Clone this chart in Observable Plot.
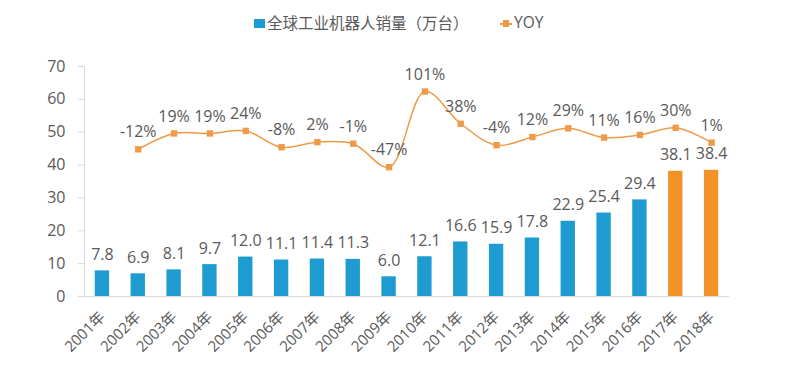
<!DOCTYPE html>
<html><head><meta charset="utf-8">
<script src="https://cdn.jsdelivr.net/npm/d3@7"></script>
<script src="https://cdn.jsdelivr.net/npm/@observablehq/plot@0.6"></script>
<style>
body{margin:0;background:#fff;font-family:"Open Sans","Noto Sans CJK SC",sans-serif;color:#595959;}
#legend{position:relative;height:45px;width:794px;font-size:15.5px;}
#legend span{position:absolute;white-space:nowrap;}
</style></head><body>
<div id="legend">
  <span style="left:254px;top:19px;width:11px;height:9px;background:#1E9BD0"></span>
  <span style="left:267px;top:11px;font-family:'Noto Sans CJK SC';">全球工业机器人销量（万台）</span>
  <span style="left:500px;top:23px;width:12px;height:1.5px;background:#EE9A48"></span>
  <span style="left:503px;top:20px;width:6px;height:7px;background:#EE9A48"></span>
  <span style="left:514px;top:11px;">YOY</span>
</div>
<div id="chart"></div>
<script>
const years = ["2001年","2002年","2003年","2004年","2005年","2006年","2007年","2008年","2009年","2010年","2011年","2012年","2013年","2014年","2015年","2016年","2017年","2018年"];
const sales = [7.8,6.9,8.1,9.7,12.0,11.1,11.4,11.3,6.0,12.1,16.6,15.9,17.8,22.9,25.4,29.4,38.1,38.4];
const yoy = [null,-12,19,19,24,-8,2,-1,-47,101,38,-4,12,29,11,16,30,1];
const highlightYears = ["2017年","2018年"];
const yTicks = [0,10,20,30,40,50,60,70];
const yoyAxisDomain = [-300,150]; // hidden secondary axis (%)

const leftMax = 70;
const toLeft = v => (v - yoyAxisDomain[0]) / (yoyAxisDomain[1] - yoyAxisDomain[0]) * leftMax;

const barData = years.map((y,i)=>({year:y, value:sales[i], hi: highlightYears.includes(y)}));
const lineData = years.map((y,i)=>({year:y, yoy:yoy[i]})).filter(d=>d.yoy!=null).map(d=>({...d, y: toLeft(d.yoy)}));

const blue = "#1E9BD0", orange = "#F39228", lineOrange = "#EE9A48", text = "#595959";

const chart = Plot.plot({
  width: 794,
  height: 320,
  marginTop: 21,
  marginBottom: 69,
  marginLeft: 84,
  marginRight: 65,
  style: {fontFamily: "'Open Sans','Noto Sans CJK SC',sans-serif", color: text, background: "#fff"},
  x: {domain: years, paddingInner: 0.6, paddingOuter: 0.3, round: false},
  y: {domain: [0,70]},
  marks: [
    Plot.frame({anchor: "left", stroke: "#d9d9d9"}),
    Plot.ruleY([0], {stroke: "#d9d9d9", insetLeft: -4}),
    Plot.axisY({ticks: yTicks, tickSize: 6, tickPadding: 13, stroke: "#d9d9d9", fill: text, fontSize: 16, label: null}),
    Plot.axisX({tickRotate: -45, tickSize: 0, tickPadding: 18, fill: text, fontSize: 15, label: null}),
    Plot.barY(barData, {x: "year", y: "value", fill: d => d.hi ? orange : blue}),
    Plot.text(barData, {x: "year", y: "value", text: d => d.value.toFixed(1), dy: -16, fill: text, fontSize: 16}),
    Plot.line(lineData, {x: "year", y: "y", curve: "catmull-rom", stroke: lineOrange, strokeWidth: 1.5}),
    Plot.dot(lineData, {x: "year", y: "y", symbol: "square", r: 3.6, fill: lineOrange, stroke: null}),
    Plot.text(lineData, {x: "year", y: "y", text: d => d.yoy + "%", dy: -17, fill: text, fontSize: 16})
  ]
});
document.getElementById("chart").appendChild(chart);
</script>
</body></html>
